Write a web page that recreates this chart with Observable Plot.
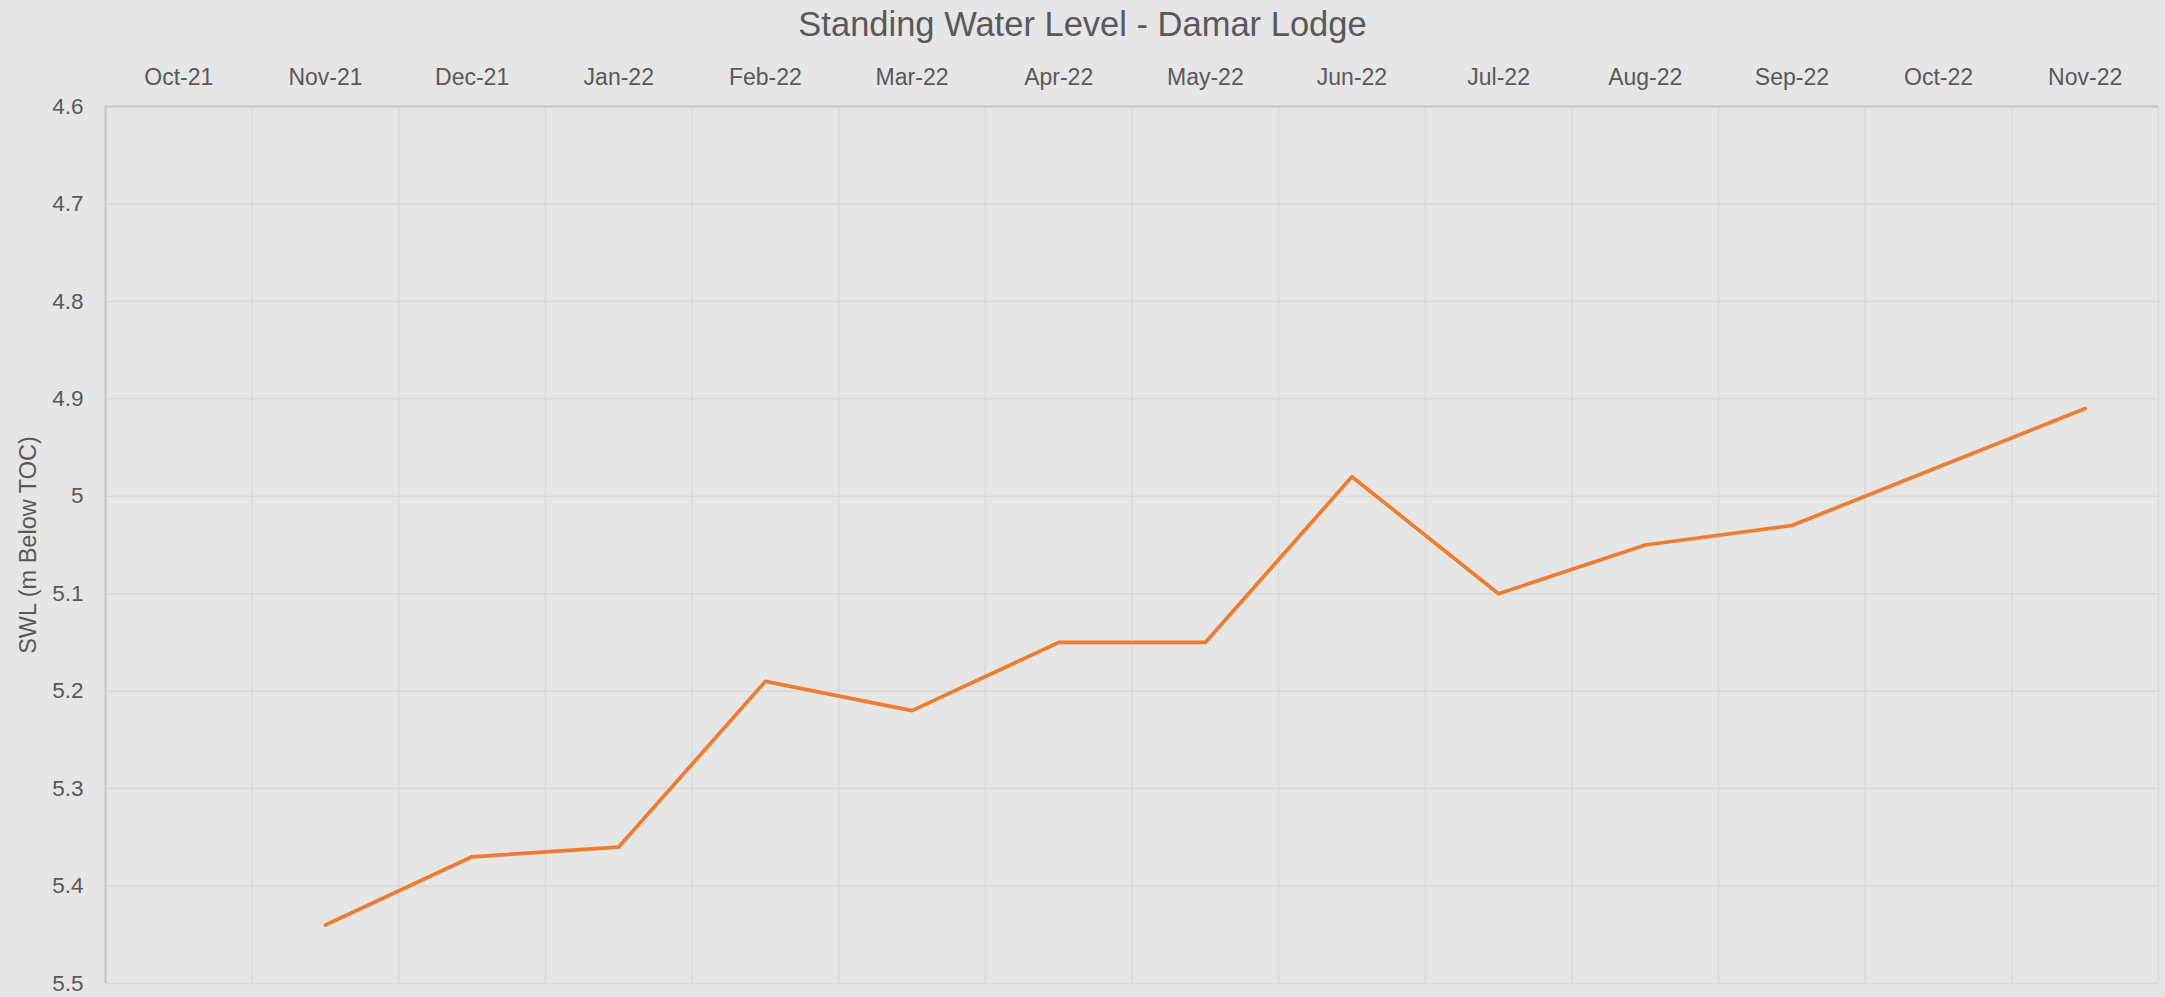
<!DOCTYPE html>
<html>
<head>
<meta charset="utf-8">
<script src="https://cdn.jsdelivr.net/npm/d3@7"></script>
<script src="https://cdn.jsdelivr.net/npm/@observablehq/plot@0.6"></script>
<style>
  html, body { margin: 0; padding: 0; background: #e6e6e6; }
  #title { height: 46px; line-height: 48px; text-align: center; font-family: "Liberation Sans", Arial, sans-serif; font-size: 34.5px; color: #595959; }
</style>
</head>
<body>
<div id="title">Standing Water Level - Damar Lodge</div>
<div id="chart"></div>
<script>
const months = ["Oct-21","Nov-21","Dec-21","Jan-22","Feb-22","Mar-22","Apr-22","May-22","Jun-22","Jul-22","Aug-22","Sep-22","Oct-22","Nov-22"];
const swl = [null, 5.44, 5.37, 5.36, 5.19, 5.22, 5.15, 5.15, 4.98, 5.10, 5.05, 5.03, 4.97, 4.91];
const yTicks = [4.6, 4.7, 4.8, 4.9, 5.0, 5.1, 5.2, 5.3, 5.4, 5.5];
const yLabel = "SWL (m Below TOC)";

const data = months.map((m, i) => ({month: m, pos: i + 0.5, value: swl[i]})).filter(d => d.value != null);
const bounds = d3.range(months.length + 1);
const centers = months.map((m, i) => i + 0.5);

const font = "'Liberation Sans', Arial, sans-serif";

const chart = Plot.plot({
  width: 2165,
  height: 951,
  marginTop: 60,
  marginBottom: 14,
  marginLeft: 105,
  marginRight: 7,
  style: {background: "#e6e6e6", fontFamily: font, fontSize: "23px", color: "#595959"},
  x: {domain: [0, months.length], axis: null},
  y: {domain: [4.6, 5.5], reverse: true, axis: null},
  marks: [
    Plot.gridX(bounds, {stroke: "#d9d9d9", strokeOpacity: 1, strokeWidth: 1.5}),
    Plot.gridY(yTicks, {stroke: "#d9d9d9", strokeOpacity: 1, strokeWidth: 1.5}),
    Plot.ruleY([4.6], {stroke: "#c6c6c6", strokeWidth: 2}),
    Plot.ruleX([0], {stroke: "#c6c6c6", strokeWidth: 2}),
    Plot.axisX(centers, {anchor: "top", tickSize: 0, tickPadding: 22, tickFormat: d => months[Math.floor(d)], fill: "#595959", fontSize: 23, label: null}),
    Plot.axisY(yTicks, {anchor: "left", tickSize: 0, tickPadding: 22, tickFormat: d => String(+d.toFixed(1)), fill: "#595959", fontSize: 22.5, label: null}),
    Plot.line(data, {x: "pos", y: "value", stroke: "#ED7D31", strokeWidth: 3.75}),
    Plot.text([yLabel], {text: d => d, frameAnchor: "left", textAnchor: "middle", dx: -77, rotate: -90, fontSize: 23.5, fontFamily: font, fill: "#595959"})
  ]
});
document.getElementById("chart").appendChild(chart);
</script>
</body>
</html>
